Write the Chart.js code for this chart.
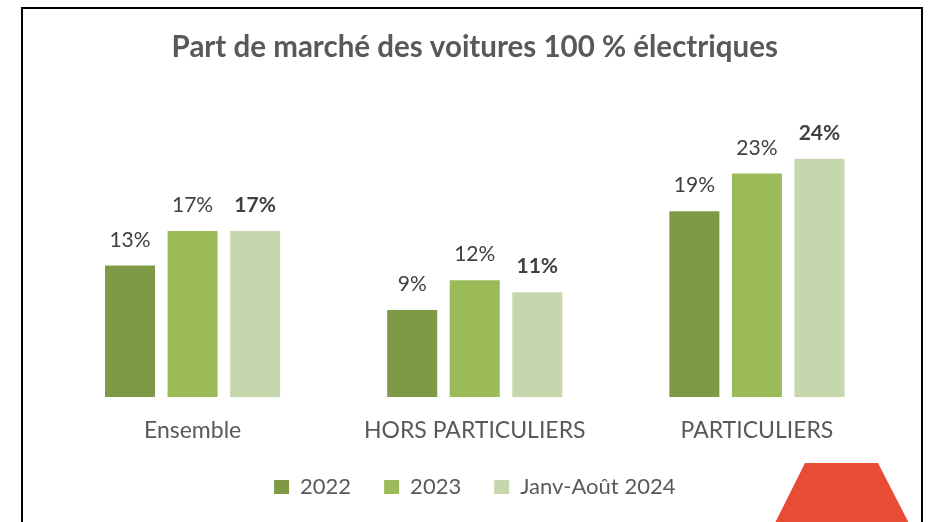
<!DOCTYPE html>
<html>
<head>
<meta charset="utf-8">
<script src="https://cdn.jsdelivr.net/npm/chart.js@4"></script>
<style>
  html, body { margin: 0; padding: 0; background: #fff; }
  #wrap { position: relative; width: 933px; height: 522px; overflow: hidden; }
  #chartCanvas { position: absolute; left: 0; top: 0; }
  #frame { position: absolute; left: 21px; top: 7px; width: 898px; height: 600px; border: 2px solid #000; box-sizing: content-box; pointer-events: none; }
  #logo { position: absolute; left: 770px; top: 463px; width: 145px; height: 70px; background: #E94C35;
          clip-path: polygon(35px 0, 108px 0, 144px 70px, 0 70px); }
</style>
</head>
<body>
<div id="wrap">
  <canvas id="chartCanvas" width="933" height="540"></canvas>
  <div id="frame"></div>
  <div id="logo"></div>
</div>
<script>
var categories = ["Ensemble", "HORS PARTICULIERS", "PARTICULIERS"];
var seriesNames = ["2022", "2023", "Janv-Août 2024"];
var values2022 = [13.3, 8.8, 18.8];
var values2023 = [16.8, 11.8, 22.6];
var values2024 = [16.8, 10.6, 24.1];
var colors = ["#7E9A46", "#9BBB59", "#C7D7AD"];

var barLabels = {
  id: "barLabels",
  afterDatasetsDraw: function(chart) {
    var ctx = chart.ctx;
    ctx.save();
    ctx.textAlign = "center";
    ctx.textBaseline = "alphabetic";
    chart.data.datasets.forEach(function(ds, i) {
      var meta = chart.getDatasetMeta(i);
      ctx.font = (i == 2 ? "bold " : "") + "21px Lato";
      ctx.fillStyle = "#404040";
      meta.data.forEach(function(bar, j) {
        ctx.fillText(Math.round(ds.data[j]) + "%", bar.x, bar.y - 19);
      });
    });
    ctx.restore();
  }
};

function setupChart() {
  var el = document.getElementById("chartCanvas").getContext("2d");
  var allValues = [values2022, values2023, values2024];
  var datasets = [];
  for (var i = 0; i < seriesNames.length; i++) {
    datasets.push({
      label: seriesNames[i],
      data: allValues[i],
      backgroundColor: colors[i],
      borderWidth: 0,
      barPercentage: 0.8,
      categoryPercentage: 0.665
    });
  }

  new Chart(el, {
    type: "bar",
    data: { labels: categories, datasets: datasets },
    plugins: [barLabels],
    options: {
      responsive: false,
      animation: false,
      devicePixelRatio: 1,
      layout: { padding: { top: 0, left: 51.5, right: 35, bottom: 32 } },
      plugins: {
        title: {
          display: true,
          text: "Part de marché des voitures 100 % électriques",
          color: "#595959",
          font: { family: "Lato", size: 29.5, weight: "bold" },
          padding: { top: 30, bottom: 35 }
        },
        legend: {
          position: "bottom",
          labels: {
            color: "#595959",
            font: { family: "Lato", size: 22 },
            boxWidth: 15,
            boxHeight: 14,
            padding: 33
          }
        },
        tooltip: { enabled: false }
      },
      scales: {
        x: {
          grid: { display: false },
          border: { display: false },
          ticks: { color: "#595959", font: { family: "Lato", size: 23 }, padding: 12 },
          afterFit: function(scale) { scale.height = 46; }
        },
        y: {
          display: false,
          min: 0,
          max: 30
        }
      }
    }
  });
}

setupChart();
</script>
</body>
</html>
